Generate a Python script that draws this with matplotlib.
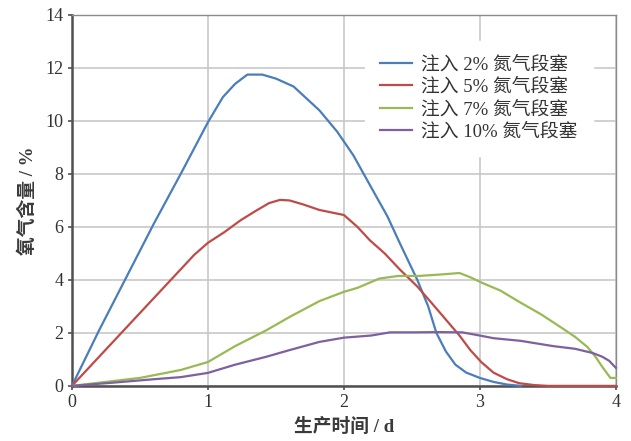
import matplotlib
matplotlib.use("Agg")
import matplotlib.pyplot as plt

# Oxygen content (%) vs production time (d) for different nitrogen slug sizes
labels = ["注入 2% 氮气段塞", "注入 5% 氮气段塞", "注入 7% 氮气段塞", "注入 10% 氮气段塞"]
colors = ["#4a7ebb", "#be4b48", "#98b954", "#7d60a0"]

t_2 = [0, 0.2, 0.4, 0.6, 0.8, 1.0, 1.11, 1.2, 1.29, 1.40, 1.5, 1.63, 1.82, 1.95,
       2.07, 2.2, 2.32, 2.41, 2.54, 2.62, 2.68, 2.75, 2.82, 2.90, 3.0, 3.10, 3.2, 3.3]
o2_2 = [0, 2.1, 4.1, 6.1, 8.0, 9.95, 10.9, 11.4, 11.75, 11.75, 11.6, 11.3, 10.4, 9.6,
        8.7, 7.5, 6.4, 5.4, 4.0, 3.0, 2.0, 1.3, 0.8, 0.5, 0.3, 0.15, 0.05, 0.0]

t_5 = [0, 0.2, 0.4, 0.6, 0.8, 0.9, 1.0, 1.12, 1.24, 1.35, 1.45, 1.53, 1.6, 1.7, 1.82,
       2.0, 2.1, 2.19, 2.3, 2.41, 2.54, 2.65, 2.75, 2.85, 2.93, 3.01, 3.1, 3.2, 3.29,
       3.4, 3.5, 4.0]
o2_5 = [0, 1.1, 2.2, 3.3, 4.4, 4.95, 5.4, 5.8, 6.25, 6.6, 6.9, 7.02, 7.0, 6.85, 6.64,
        6.45, 6.0, 5.5, 5.0, 4.4, 3.75, 3.1, 2.5, 1.9, 1.35, 0.9, 0.5, 0.25, 0.1,
        0.03, 0.0, 0.0]

t_7 = [0, 0.25, 0.5, 0.8, 1.0, 1.2, 1.43, 1.6, 1.82, 2.0, 2.1, 2.26, 2.4, 2.55, 2.7,
       2.85, 2.93, 3.02, 3.15, 3.29, 3.45, 3.59, 3.7, 3.79, 3.85, 3.90, 3.96, 4.0]
o2_7 = [0, 0.15, 0.3, 0.6, 0.9, 1.5, 2.1, 2.6, 3.2, 3.55, 3.7, 4.05, 4.15, 4.15, 4.2,
        4.26, 4.1, 3.88, 3.6, 3.17, 2.7, 2.23, 1.85, 1.47, 1.1, 0.72, 0.3, 0.3]

t_10 = [0, 0.3, 0.6, 0.8, 1.0, 1.2, 1.43, 1.6, 1.82, 2.0, 2.2, 2.34, 2.5, 2.7, 2.87,
        3.0, 3.1, 3.3, 3.54, 3.7, 3.83, 3.9, 3.95, 4.0]
o2_10 = [0, 0.12, 0.25, 0.33, 0.49, 0.8, 1.1, 1.35, 1.66, 1.82, 1.9, 2.02, 2.02, 2.03,
         2.02, 1.9, 1.8, 1.7, 1.5, 1.4, 1.24, 1.1, 0.95, 0.68]

series = [(t_2, o2_2), (t_5, o2_5), (t_7, o2_7), (t_10, o2_10)]

x_ticks = [0, 1, 2, 3, 4]
y_ticks = [0, 2, 4, 6, 8, 10, 12, 14]

mixed = ["Liberation Serif", "Noto Sans CJK SC"]

fig = plt.figure(figsize=(6.31, 4.41), dpi=100)
ax = fig.add_axes([0.114, 0.125, 0.862, 0.841])

for (t, o2), c, lab in zip(series, colors, labels):
    ax.plot(t, o2, color=c, lw=1.6, label=lab, clip_on=False, zorder=3)

ax.set_xlim(0, 4)
ax.set_ylim(0, 14)
ax.set_xticks(x_ticks)
ax.set_yticks(y_ticks)
ax.grid(True, color="#c4c4c4", lw=1.1, zorder=0)
ax.set_axisbelow(True)

for side in ("left", "bottom"):
    ax.spines[side].set_color("#505050")
    ax.spines[side].set_linewidth(1.8)
for side in ("top", "right"):
    ax.spines[side].set_color("#8a8a8a")
    ax.spines[side].set_linewidth(1.0)

ax.tick_params(direction="out", length=3, width=1.2, color="#505050",
               labelsize=13, labelcolor="#333333", pad=3)
for lbl in ax.get_xticklabels() + ax.get_yticklabels():
    lbl.set_fontfamily("Liberation Serif")

ax.set_xlabel("生产时间 / d", family=mixed, fontsize=13.5, fontweight="bold",
              color="#3a3a3a", labelpad=5)
ax.set_ylabel("氧气含量 / %", family=mixed, fontsize=13.5, fontweight="bold",
              color="#3a3a3a", labelpad=6)

leg = ax.legend(loc="upper left", bbox_to_anchor=(0.522, 0.955),
                prop={"family": mixed, "size": 13.5},
                frameon=True, fancybox=False, framealpha=1.0,
                facecolor="white", edgecolor="white",
                handlelength=1.7, handletextpad=0.5, labelspacing=0.26,
                borderpad=0.8)
for txt in leg.get_texts():
    txt.set_color("#333333")

fig.savefig("out.png", dpi=100)
